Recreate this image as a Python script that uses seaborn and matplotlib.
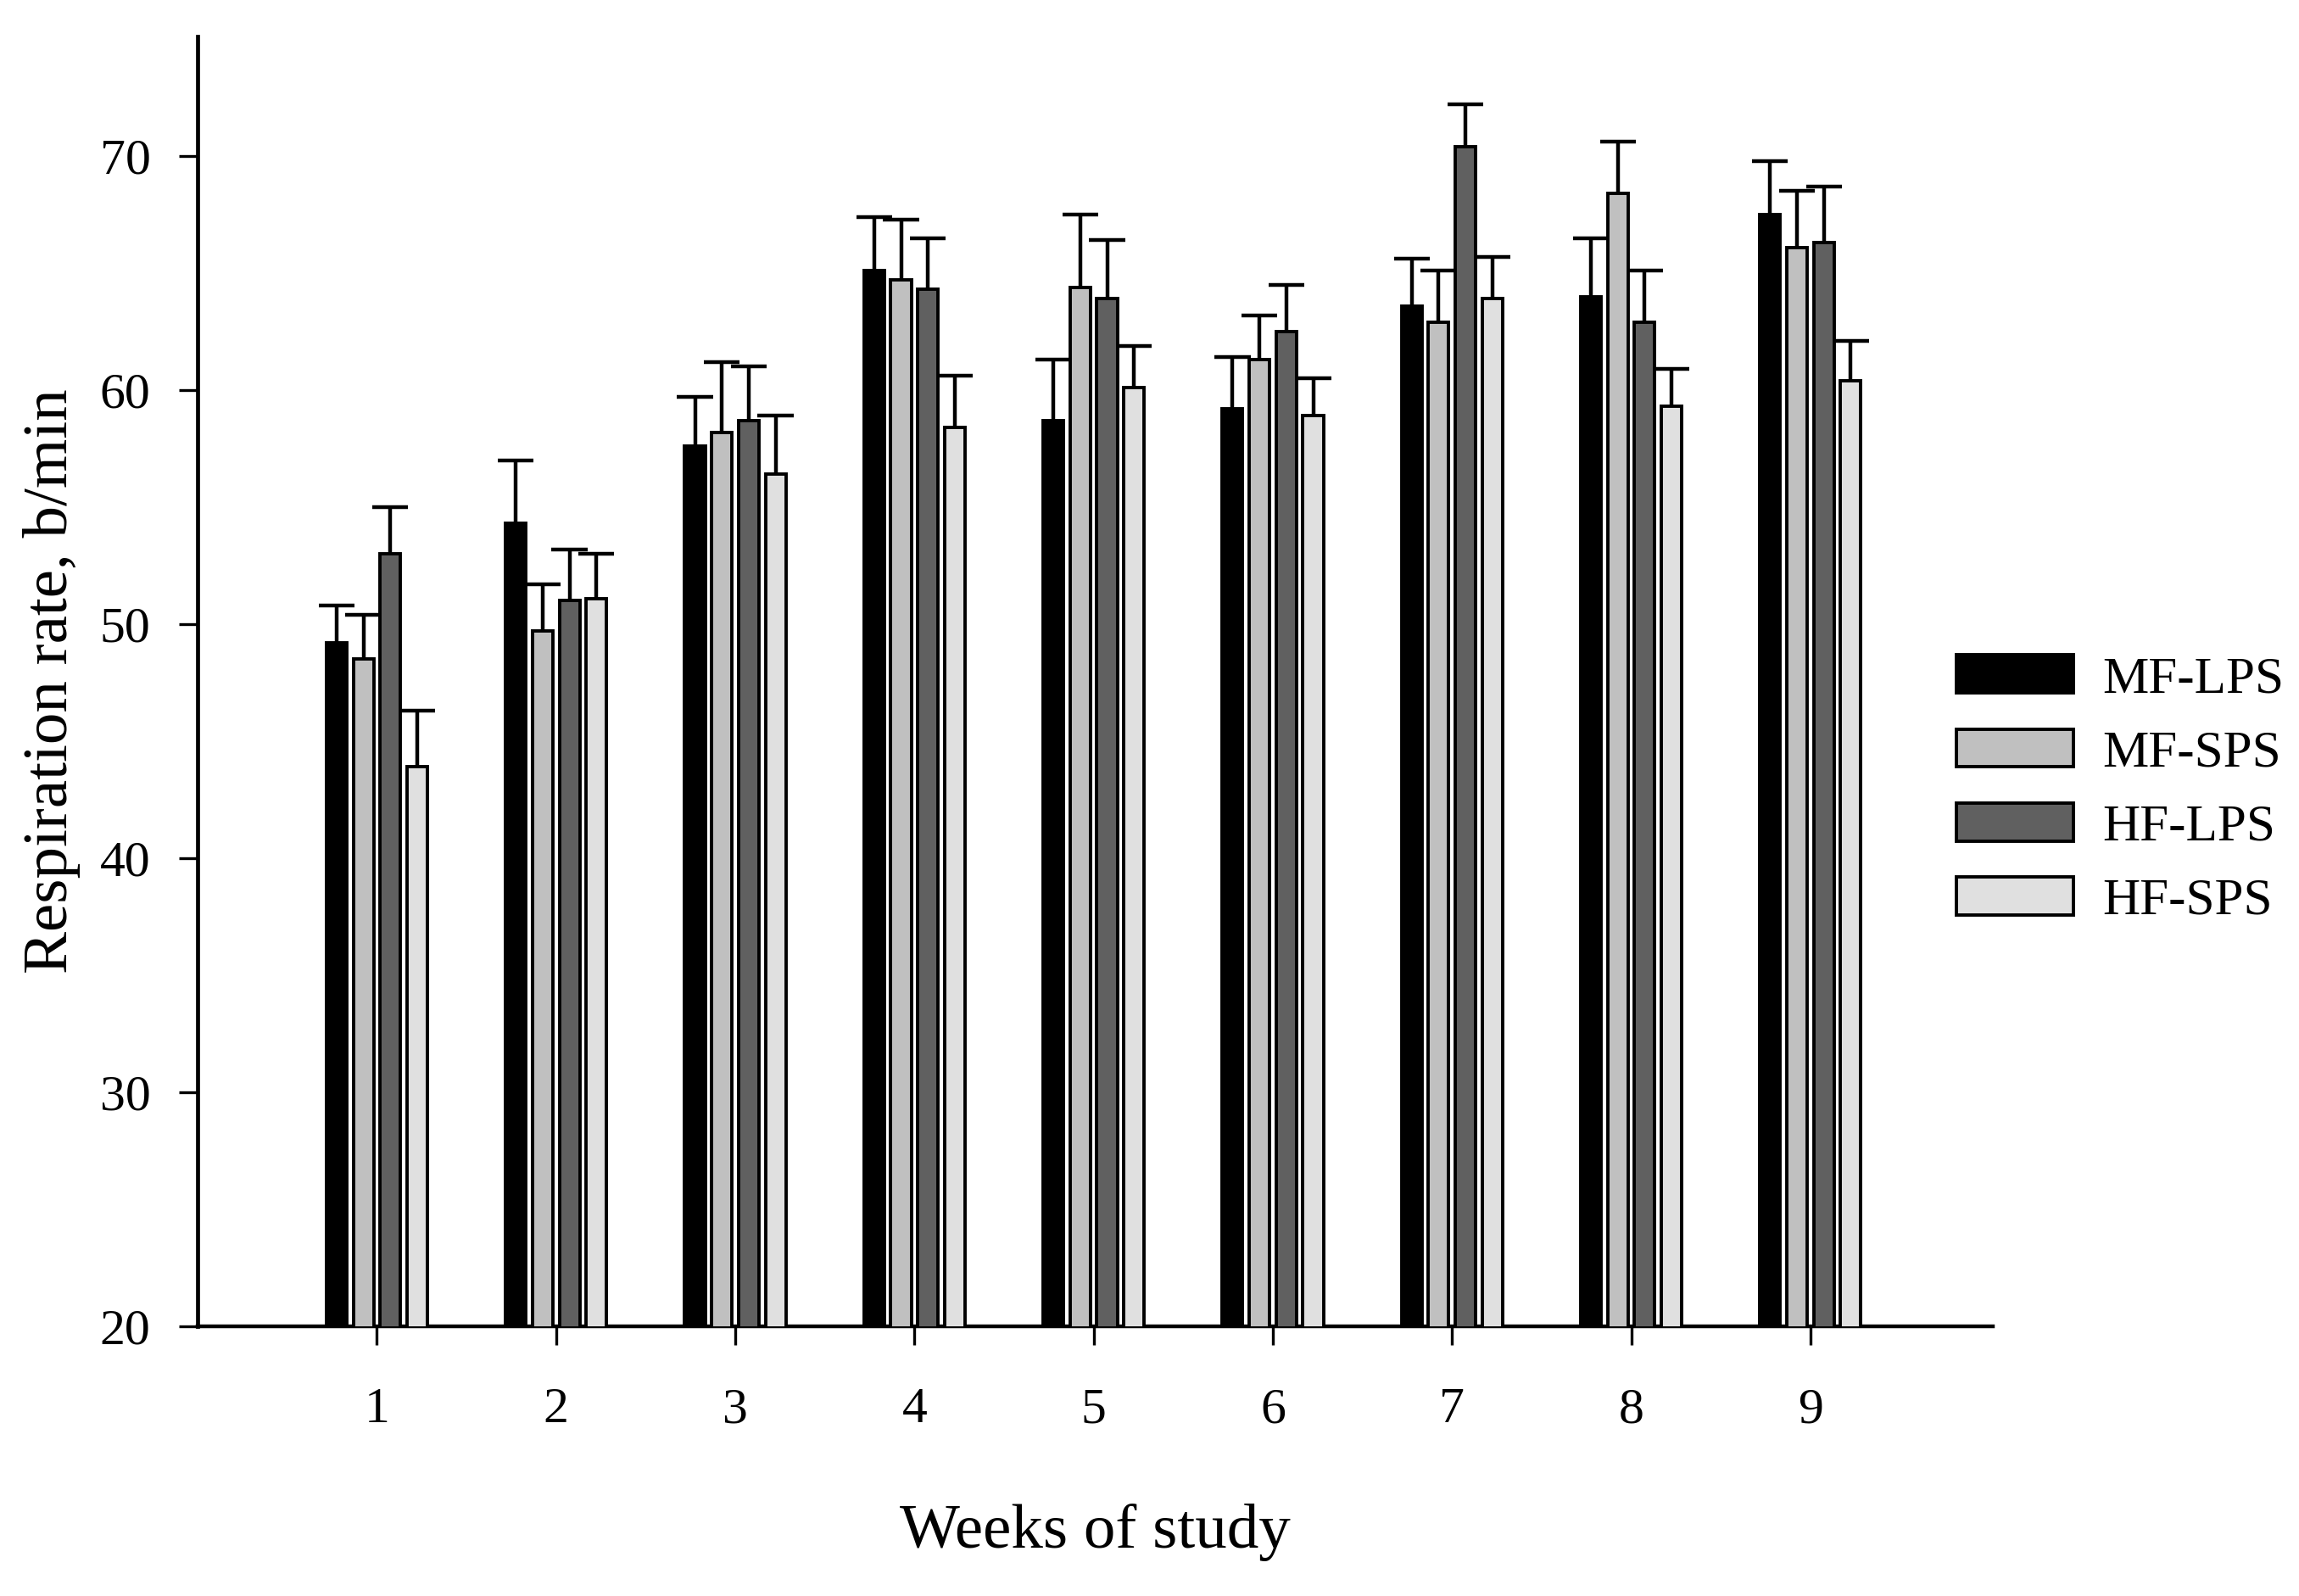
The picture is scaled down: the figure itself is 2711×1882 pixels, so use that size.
import numpy as np
import pandas as pd
import matplotlib
matplotlib.use('Agg')
import matplotlib.pyplot as plt
import seaborn as sns

# data: bar heights and upper error (SE)
weeks = ['1', '2', '3', '4', '5', '6', '7', '8', '9']
groups = ['MF-LPS', 'MF-SPS', 'HF-LPS', 'HF-SPS']
colors = ['#000000', '#c0c0c0', '#606060', '#e0e0e0']

mf_lps = [49.2, 54.3, 57.6, 65.1, 58.7, 59.2, 63.6, 64.0, 67.5]
mf_sps = [48.5, 49.7, 58.2, 64.7, 64.4, 61.3, 62.9, 68.4, 66.1]
hf_lps = [53.0, 51.0, 58.7, 64.3, 63.9, 62.5, 70.4, 62.9, 66.3]
hf_sps = [43.9, 51.1, 56.4, 58.4, 60.1, 58.9, 63.9, 59.3, 60.4]

mf_lps_se = [1.6, 2.7, 2.1, 2.3, 2.6, 2.2, 2.0, 2.5, 2.3]
mf_sps_se = [1.9, 2.0, 3.0, 2.6, 3.1, 1.9, 2.2, 2.2, 2.4]
hf_lps_se = [2.0, 2.2, 2.3, 2.2, 2.5, 2.0, 1.8, 2.2, 2.4]
hf_sps_se = [2.4, 1.9, 2.5, 2.2, 1.8, 1.6, 1.8, 1.6, 1.7]

means = [mf_lps, mf_sps, hf_lps, hf_sps]
ses = [mf_lps_se, mf_sps_se, hf_lps_se, hf_sps_se]

rows = []
for g, m, s in zip(groups, means, ses):
    for w, v, e in zip(weeks, m, s):
        rows.append({'week': w, 'group': g, 'rate': v, 'se': e})
df = pd.DataFrame(rows)

sns.set_style('ticks', {'axes.edgecolor': 'black', 'text.color': 'black',
                        'axes.labelcolor': 'black', 'xtick.color': 'black',
                        'ytick.color': 'black'})
plt.rcParams['font.family'] = ['Liberation Serif', 'DejaVu Serif']

fig = plt.figure(figsize=(27.11, 18.82), dpi=100)
ax = fig.add_axes([0.086, 0.169, 0.781, 0.808])

sns.barplot(data=df, x='week', y='rate', hue='group', hue_order=groups,
            palette=colors, width=0.6, gap=0.24, errorbar=None,
            edgecolor='black', linewidth=2.8, ax=ax, zorder=3)

#upper error bars, drawn behind the bars
for cont, g in zip(ax.containers, groups):
    sub = df[df['group'] == g]
    xs = np.array([p.get_x() + p.get_width() / 2 for p in cont.patches])
    ys = sub['rate'].values
    tops = ys + sub['se'].values
    ax.vlines(xs, ys, tops, color='black', linewidth=3.2, zorder=2)
    ax.hlines(tops, xs - 0.1, xs + 0.1, color='black', linewidth=3.2, zorder=2)

ax.set_ylim(20, 75.1)
ax.set_xlim(-1, 9.02)
ax.set_yticks([20, 30, 40, 50, 60, 70])
ax.set_xlabel('Weeks of study', fontsize=54, labelpad=60)
ax.set_ylabel('Respiration rate, b/min', fontsize=54, labelpad=16)
ax.tick_params(axis='both', labelsize=43, width=2.4, length=16, color='black')
ax.tick_params(axis='x', pad=36)
ax.tick_params(axis='y', pad=24)
sns.despine(ax=ax)
ax.spines['left'].set_linewidth(3.4)
ax.spines['bottom'].set_linewidth(3.2)

ax.legend(loc='center left', bbox_to_anchor=(0.851, 0.505),
          bbox_transform=fig.transFigure, frameon=False, fontsize=44,
          handlelength=2.26, handleheight=0.75, handletextpad=0.55,
          labelspacing=0.5, borderpad=0, borderaxespad=0)

fig.savefig('out.png', dpi=100)
